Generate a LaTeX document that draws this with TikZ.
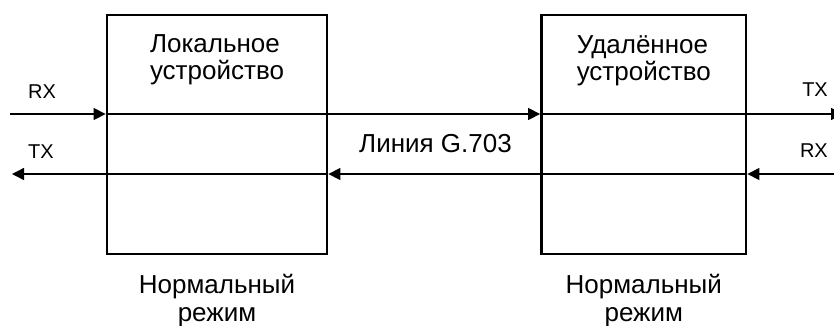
\documentclass[tikz,border=0pt]{standalone}
\usepackage{fontspec}
\setmainfont{Liberation Sans}
\usetikzlibrary{arrows.meta,positioning}

\tikzset{
	devbox/.style={draw, line width=2.8pt, minimum width=220pt, minimum height=239pt, inner sep=0pt},
	sig/.style={line width=1.4pt, -{Triangle[length=12pt,width=12pt]}},
	big/.style={font=\fontsize{26}{27.5}\selectfont, inner sep=0pt},
	small/.style={font=\fontsize{20}{22}\selectfont, inner sep=0pt}
}

\begin{document}
\begin{tikzpicture}[x=1pt,y=-1pt]
	\useasboundingbox (0,0) rectangle (834,325);

	% devices
	\node[devbox] (loc) at (217,134.5) {};
	\node[devbox, minimum width=204.5pt] (rem) at (643.75,134.5) {};

	\node[big, align=left, anchor=base] (locname) at (217,79.5) {Локальное\\устройство};
	\node[big, align=left, anchor=base] (remname) at (643.75,80.5) {Удалённое\\устройство};

	\node[big, align=center, anchor=base] (locmode) at (217,321) {Нормальный\\режим};
	\node[big, align=center, anchor=base] (remmode) at (643.75,321) {Нормальный\\режим};

	% line ends
	\coordinate (inL) at (10,114);
	\coordinate (outR) at (843,114);
	\coordinate (inR) at (843,174);
	\coordinate (outL) at (12,174);

	\draw[sig] (inL) -- (loc.west |- inL);
	\draw[sig] (loc.west |- inL) -- (rem.west |- inL);
	\draw[sig] (rem.west |- inL) -- (outR);

	\draw[sig] (inR) -- (rem.east |- inR);
	\draw[sig] (rem.east |- inR) -- (loc.east |- inR);
	\draw[sig] (loc.east |- inR) -- (outL);

	% labels
	\node[small, anchor=base west] (rxL) at (28,98) {RX};
	\node[small, anchor=base west] (txL) at (28,158) {TX};
	\node[small, anchor=base east] (txR) at (828,96) {TX};
	\node[small, anchor=base east] (rxR) at (828,157) {RX};

	\node[big, anchor=base] (g703) at (435.5,152.5) {Линия G.703};
\end{tikzpicture}
\end{document}
